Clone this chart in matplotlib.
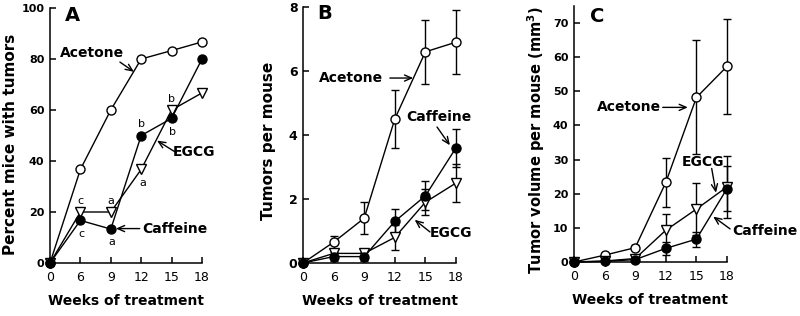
import matplotlib
matplotlib.use("Agg")
import matplotlib.pyplot as plt
import numpy as np

weeks = ["0", "6", "9", "12", "15", "18"]

# Panel A: percent mice with tumors
A_acetone = [0, 36.7, 60, 80, 83.3, 86.7]
A_egcg = [0, 20, 20, 36.7, 60, 66.7]
A_caffeine = [0, 16.7, 13.3, 50, 56.7, 80]

# Panel B: tumors per mouse (mean, error)
B_acetone = [0, 0.65, 1.4, 4.5, 6.6, 6.9]
B_acetone_err = [0, 0.2, 0.5, 0.9, 1.0, 1.0]
B_egcg = [0, 0.3, 0.3, 0.8, 1.9, 2.5]
B_egcg_err = [0, 0.15, 0.15, 0.4, 0.4, 0.6]
B_caffeine = [0, 0.2, 0.2, 1.3, 2.1, 3.6]
B_caffeine_err = [0, 0.15, 0.15, 0.4, 0.45, 0.6]

# Panel C: tumor volume per mouse (mean, error)
C_acetone = [0, 2, 4.2, 23.3, 48.2, 57.3]
C_acetone_err = [0, 0.5, 0.8, 7.2, 16.7, 13.8]
C_egcg = [0, 0.3, 1.0, 9.3, 15.5, 22]
C_egcg_err = [0, 0.3, 0.5, 4.7, 7.5, 9.0]
C_caffeine = [0, 0.2, 0.7, 4.0, 6.7, 21.5]
C_caffeine_err = [0, 0.2, 0.4, 2.0, 2.2, 6.6]

# letters of significance in panel A: (series, index, letter, above?)
A_letters = [("egcg", 1, "c", True), ("caffeine", 1, "c", False),
             ("egcg", 2, "a", True), ("caffeine", 2, "a", False),
             ("caffeine", 3, "b", True), ("egcg", 3, "a", False),
             ("egcg", 4, "b", True), ("caffeine", 4, "b", False)]

x = np.arange(len(weeks))
W, H = 800, 316
fig = plt.figure(figsize=(8, 3.16), dpi=100)

def make_ax(l, r, b, t):
    ax = fig.add_axes([l / W, b / H, (r - l) / W, (t - b) / H])
    for s in ("top", "right"):
        ax.spines[s].set_visible(False)
    for s in ("left", "bottom"):
        ax.spines[s].set_linewidth(1.1)
    ax.set_xlim(0, 5)
    ax.set_xticks(x)
    ax.set_xticklabels(weeks, fontsize=9)
    ax.tick_params(axis="both", direction="in", length=4, width=1.1)
    ax.tick_params(axis="x", pad=6)
    ax.tick_params(axis="y", pad=4)
    return ax

style_ac = dict(marker="o", ms=6.5, mfc="white", mec="black", mew=1.0,
                color="black", lw=1.0, clip_on=False)
style_eg = dict(marker="v", ms=7.5, mfc="white", mec="black", mew=1.0,
                color="black", lw=1.0, clip_on=False)
style_ca = dict(marker="o", ms=6.5, mfc="black", mec="black", mew=1.0,
                color="black", lw=1.0, clip_on=False)
arrow = dict(arrowstyle="->,head_length=0.5,head_width=0.22", color="black", lw=1.0,
             shrinkA=0, shrinkB=0)
lab = dict(fontsize=10, fontweight="bold", ha="center", va="center")

def label(ax, txt, txy, tail, head):
    ax.text(*txy, txt, **lab, clip_on=False)
    ax.annotate("", xy=head, xytext=tail, arrowprops=arrow, annotation_clip=False)

# ---------- Panel A ----------
axA = make_ax(50, 202, 53, 308)
axA.set_ylim(0, 100)
axA.set_yticks([0, 20, 40, 60, 80, 100])
axA.set_yticklabels(["0", "20", "40", "60", "80", "100"], fontsize=8, fontweight="bold")
axA.plot(x, A_acetone, **style_ac)
axA.plot(x, A_egcg, **style_eg)
axA.plot(x, A_caffeine, **style_ca)
series = {"egcg": A_egcg, "caffeine": A_caffeine}
for key, i, letter, above in A_letters:
    axA.annotate(letter, xy=(x[i], series[key][i]), xytext=(1 if not above else 0, 8 if above else -9.5),
                 textcoords="offset points", ha="center", va="center", fontsize=8)
axA.text(0.75, 97, "A", fontsize=14, fontweight="bold", ha="center", va="center")
label(axA, "Acetone", (1.38, 82.4), (2.3, 78.8), (2.76, 75.0))
label(axA, "EGCG", (4.75, 43.5), (4.15, 43.3), (3.52, 48.0))
label(axA, "Caffeine", (4.1, 13.5), (2.95, 13.5), (2.17, 13.5))
fig.text(11 / W, 1 - 144 / H, "Percent mice with tumors", rotation=90, fontsize=11,
         fontweight="bold", ha="center", va="center")
axA.set_xlabel("Weeks of treatment", fontsize=10, fontweight="bold", labelpad=7)

# ---------- Panel B ----------
axB = make_ax(303, 456, 53, 309)
axB.set_ylim(0, 8)
axB.set_yticks([0, 2, 4, 6, 8])
axB.set_yticklabels(["0", "2", "4", "6", "8"], fontsize=9, fontweight="bold")
ebk = dict(capsize=3, elinewidth=1.0, capthick=1.0, ecolor="black")
for vals, err, st in ((B_acetone, B_acetone_err, style_ac), (B_egcg, B_egcg_err, style_eg),
                      (B_caffeine, B_caffeine_err, style_ca)):
    c = axB.errorbar(x, vals, yerr=err, **ebk, **st)
    for art in c.lines[1] + c.lines[2]:
        art.set_clip_on(False)
axB.text(0.72, 7.8, "B", fontsize=14, fontweight="bold", ha="center", va="center")
label(axB, "Acetone", (1.57, 5.78), (2.84, 5.78), (3.6, 5.78))
label(axB, "Caffeine", (4.44, 4.56), (4.38, 4.25), (4.8, 3.68))
label(axB, "EGCG", (4.84, 0.94), (4.15, 0.97), (3.65, 1.35))
fig.text(269 / W, 1 - 141 / H, "Tumors per mouse", rotation=90, fontsize=11,
         fontweight="bold", ha="center", va="center")
axB.set_xlabel("Weeks of treatment", fontsize=10, fontweight="bold", labelpad=7)

# ---------- Panel C ----------
axC = make_ax(574, 727, 54, 310)
axC.set_ylim(0, 75)
axC.set_yticks([0, 10, 20, 30, 40, 50, 60, 70])
axC.set_yticklabels(["0", "10", "20", "30", "40", "50", "60", "70"], fontsize=8, fontweight="bold")
for vals, err, st in ((C_acetone, C_acetone_err, style_ac), (C_egcg, C_egcg_err, style_eg),
                      (C_caffeine, C_caffeine_err, style_ca)):
    c = axC.errorbar(x, vals, yerr=err, **ebk, **st)
    for art in c.lines[1] + c.lines[2]:
        art.set_clip_on(False)
axC.text(0.75, 71.8, "C", fontsize=14, fontweight="bold", ha="center", va="center")
label(axC, "Acetone", (1.8, 45.3), (2.9, 45.3), (3.72, 45.3))
label(axC, "EGCG", (4.22, 29.3), (4.5, 27.4), (4.64, 20.3))
label(axC, "Caffeine", (6.24, 9.2), (5.1, 9.7), (4.55, 13.3))
fig.text(536 / W, 1 - 140 / H, "Tumor volume per mouse (mm$^\\mathbf{3}$)", rotation=90, fontsize=10.5,
         fontweight="bold", ha="center", va="center")
axC.set_xlabel("Weeks of treatment", fontsize=10, fontweight="bold", labelpad=7)

fig.savefig("out.png", dpi=100)
